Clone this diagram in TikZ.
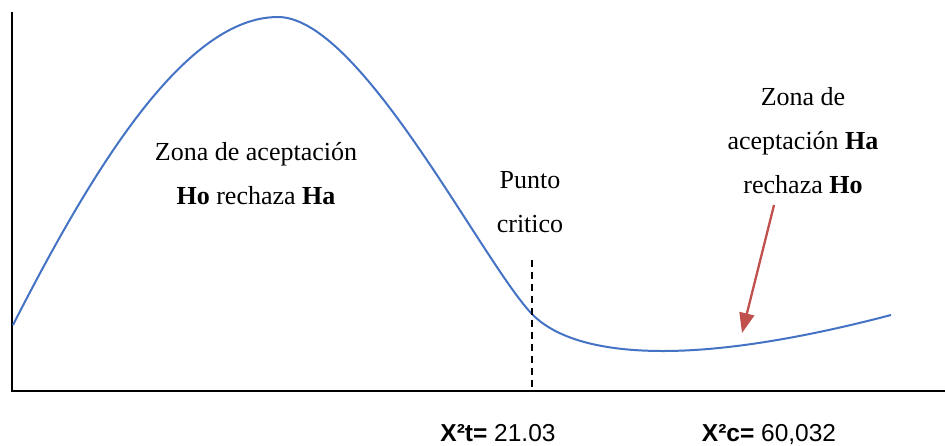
\documentclass[tikz,border=0pt]{standalone}
\usepackage{fontspec}
\setmainfont{Liberation Serif}
\newfontfamily\arialfont{Liberation Sans}
\usetikzlibrary{arrows.meta}
\definecolor{curveblue}{RGB}{68,114,196}
\definecolor{arrowred}{RGB}{192,80,77}
\begin{document}
\begin{tikzpicture}[x=1pt,y=-1pt,
  axisline/.style={line width=2.4pt,black},
  curveline/.style={line width=2pt,curveblue},
  critline/.style={line width=1.8pt,black,dash pattern=on 7pt off 5pt},
  pointer/.style={line width=2.3pt,arrowred,-{Triangle[length=20pt,width=15pt]}},
  lbl/.style={align=center,inner sep=0pt,font=\fontsize{26}{44}\selectfont},
  vallbl/.style={inner sep=0pt,anchor=base,font=\arialfont\fontsize{24.5}{28}\selectfont}]
\useasboundingbox (0,0) rectangle (945,445);
% axes
\coordinate (o) at (12,391);
\coordinate (ytop) at (12,12);
\coordinate (xend) at (945,391);
\draw[axisline] (ytop) -- (o) -- (xend);
% curve
\coordinate (c0) at (13,325);
\coordinate (peak) at (278,17);
\coordinate (cross) at (531,313);
\coordinate (cmin) at (663,351);
\coordinate (cend) at (891,315);
\draw[curveline] (c0) .. controls (98,158) and (188,17) .. (peak)
  .. controls (360,17) and (480,258) .. (cross)
  .. controls (561,345) and (620,351) .. (cmin)
  .. controls (740,351) and (830,331) .. (cend);
% critical line
\coordinate (ctop) at (532,260);
\coordinate (cbot) at (532,391);
\draw[critline] (ctop) -- (cbot);
% labels
\node[lbl] (left) at (256,174) {Zona de aceptación\\\textbf{Ho} rechaza \textbf{Ha}};
\node[lbl] (punto) at (530,202) {Punto\\critico};
\node[lbl] (right) at (803,141) {Zona de\\aceptación \textbf{Ha}\\rechaza \textbf{Ho}};
% arrow
\coordinate (astart) at (774,205);
\coordinate (aend) at (742,333);
\draw[pointer] (astart) -- (aend);
% values
\node[vallbl] (xt) at (498,441) {\textbf{X²t=} 21.03};
\node[vallbl] (xc) at (769,441) {\textbf{X²c=} 60,032};
\end{tikzpicture}
\end{document}
